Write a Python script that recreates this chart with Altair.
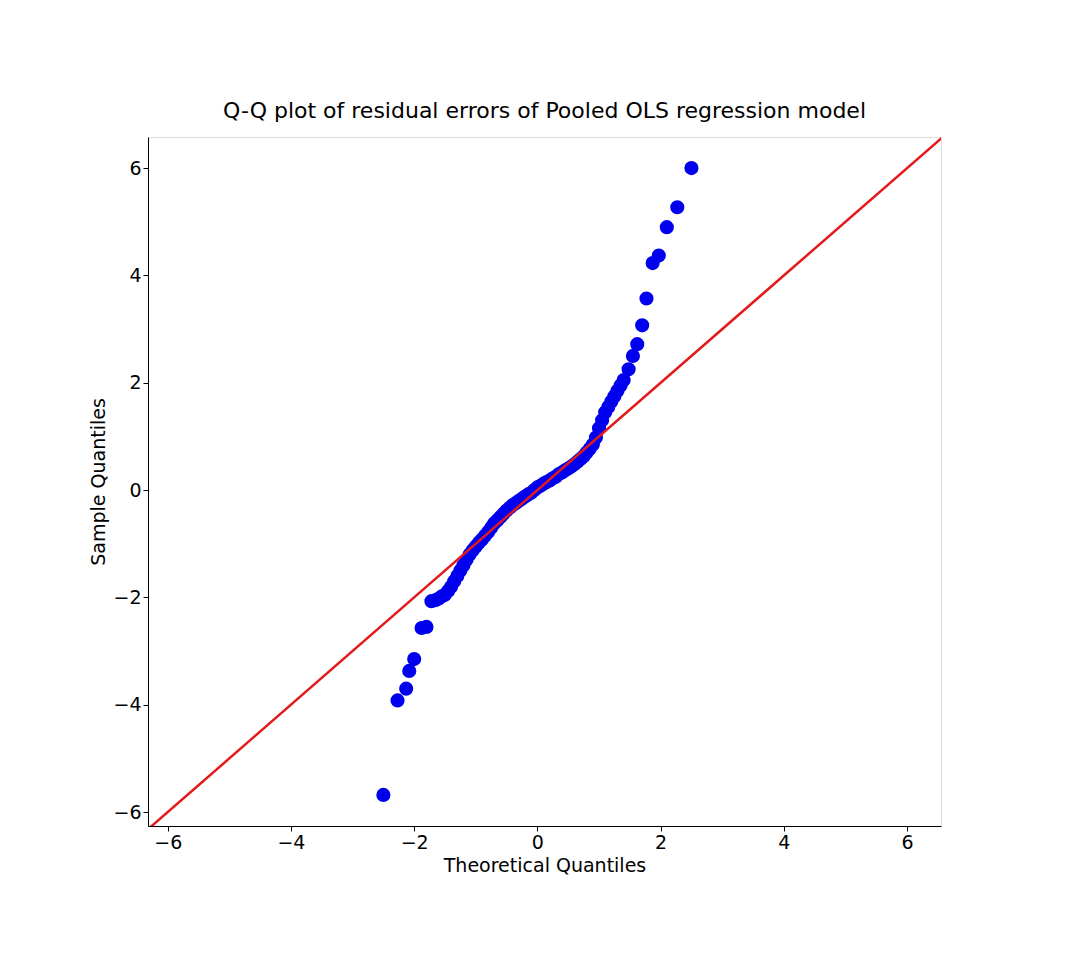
import altair as alt
import pandas as pd

theoretical = [-2.5, -2.27, -2.13, -2.08, -2.0, -1.88, -1.8, -1.72, -1.65, -1.6, -1.55, -1.5,
               -1.45, -1.4, -1.35, -1.3, -1.25, -1.2, -1.15, -1.1, -1.05, -1.0, -0.95, -0.9,
               -0.85, -0.8, -0.75, -0.7, -0.65, -0.6, -0.55, -0.5, -0.45, -0.4, -0.35, -0.3,
               -0.25, -0.2, -0.15, -0.1, -0.05, 0.0, 0.05, 0.1, 0.15, 0.2, 0.25, 0.3, 0.35,
               0.4, 0.45, 0.5, 0.55, 0.6, 0.65, 0.7, 0.75, 0.8, 0.85, 0.9, 0.95, 1.0, 1.05,
               1.1, 1.15, 1.2, 1.25, 1.3, 1.35, 1.4, 1.48, 1.55, 1.62, 1.7, 1.77, 1.87,
               1.97, 2.1, 2.27, 2.5]
sample = [-5.68, -3.92, -3.7, -3.37, -3.15, -2.57, -2.55, -2.07, -2.05, -2.02, -1.98, -1.95,
          -1.88, -1.8, -1.7, -1.6, -1.5, -1.4, -1.3, -1.2, -1.12, -1.05, -0.98, -0.92,
          -0.85, -0.78, -0.7, -0.62, -0.56, -0.5, -0.44, -0.38, -0.33, -0.28, -0.24, -0.2,
          -0.16, -0.12, -0.08, -0.05, 0.0, 0.05, 0.08, 0.12, 0.15, 0.18, 0.22, 0.25, 0.3,
          0.33, 0.37, 0.4, 0.44, 0.48, 0.53, 0.58, 0.63, 0.7, 0.77, 0.85, 0.98, 1.15, 1.3,
          1.45, 1.55, 1.65, 1.75, 1.85, 1.95, 2.05, 2.25, 2.5, 2.72, 3.07, 3.57, 4.23,
          4.37, 4.9, 5.27, 6.0]

points = pd.DataFrame({"theoretical": theoretical, "sample": sample})
ref_line = pd.DataFrame({"x": [-6.3], "y": [-6.3], "x2": [6.6], "y2": [6.6]})

xs = alt.Scale(domain=[-6.32, 6.55], nice=False, zero=False)
ys = alt.Scale(domain=[-6.26, 6.58], nice=False, zero=False)
ax = dict(grid=False, values=[-6, -4, -2, 0, 2, 4, 6], format="d", labelFontSize=19,
          titleFontSize=19, labelColor="black", titleColor="black", titleFontWeight="normal",
          domainColor="black", tickColor="black", labelFont="DejaVu Sans", titleFont="DejaVu Sans")

dots = alt.Chart(points).mark_circle(color="#0000ee", opacity=1, size=200).encode(
    x=alt.X("theoretical:Q", title="Theoretical Quantiles", scale=xs, axis=alt.Axis(**ax)),
    y=alt.Y("sample:Q", title="Sample Quantiles", scale=ys, axis=alt.Axis(**ax)),
)
line = alt.Chart(ref_line).mark_rule(color="#e31a1c", strokeWidth=2.5, clip=True).encode(
    x="x:Q", y="y:Q", x2="x2:Q", y2="y2:Q"
)

chart = alt.layer(dots, line).properties(
    width=793, height=689,
    title=alt.TitleParams("Q-Q plot of residual errors of Pooled OLS regression model",
                          fontSize=22, font="DejaVu Sans", fontWeight="normal", color="black",
                          offset=14),
).configure_view(stroke="black", strokeWidth=1.5, strokeOpacity=1).configure(
    padding={"left": 81, "top": 92, "right": 40, "bottom": 60})

chart.save("out.html", embed_options={"renderer": "svg", "actions": False})
